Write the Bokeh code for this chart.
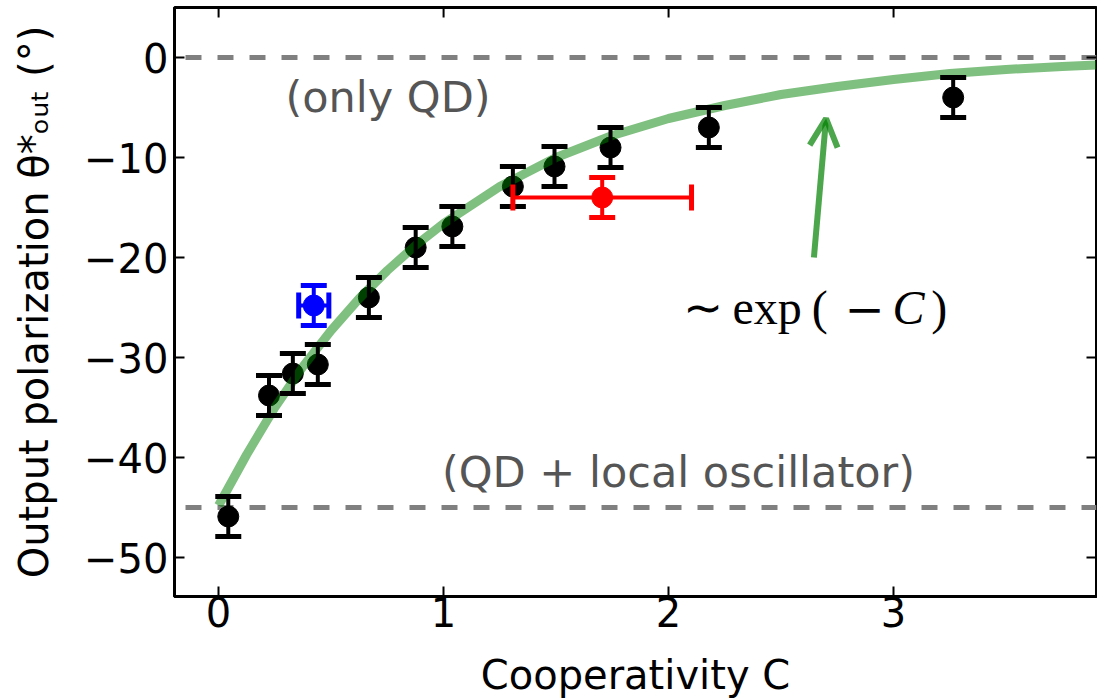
import math
from bokeh.plotting import figure
from bokeh.models import (Whisker, TeeHead, Span, Label, Arrow, OpenHead,
                          FixedTicker, ColumnDataSource, Range1d)
from bokeh.embed import file_html
from bokeh.resources import INLINE

# ---- data ----
coop = [0.043, 0.224, 0.33, 0.441, 0.668, 0.876, 1.039, 1.308, 1.493, 1.742, 2.179, 3.265]
theta = [-45.9, -33.8, -31.6, -30.7, -24.0, -19.0, -16.9, -12.9, -10.9, -9.0, -7.0, -4.0]
theta_err = [2, 2, 2, 2, 2, 2, 2, 2, 2, 2, 2, 2]

blue_c = [0.423]
blue_t = [-24.8]
blue_cerr = [0.067]
blue_terr = [2]

red_c = [1.705]
red_t = [-14.0]
red_cerr = [0.397]
red_terr = [2]

fit_c = [0.0, 0.125, 0.25, 0.375, 0.5, 0.625, 0.75, 0.875, 1.0, 1.25, 1.5, 1.75,
         2.0, 2.25, 2.5, 2.75, 3.0, 3.25, 3.5, 3.75, 3.9]
fit_t = [-44.8, -39.7, -35.0, -30.9, -27.3, -24.1, -21.3, -18.8, -16.6, -12.9, -10.0, -7.8,
         -6.1, -4.8, -3.7, -2.9, -2.2, -1.6, -1.2, -0.9, -0.75]

ref_levels = [0, -45]
x_ticks = [0, 1, 2, 3]
y_ticks = [-50, -40, -30, -20, -10, 0]

TICK_FONT = "40px"
LABEL_FONT = "40px"
NOTE_FONT = "43px"
FONT = "DejaVu Sans"

XMIN, XMAX = -0.196, 3.902
YMIN, YMAX = -53.9, 5.0

p = figure(width=1097, height=700, x_range=Range1d(XMIN, XMAX), y_range=Range1d(YMIN, YMAX),
           output_backend="svg", toolbar_location=None,
           min_border_left=174, min_border_right=1, min_border_top=7, min_border_bottom=104)
p.grid.visible = False
p.outline_line_color = "black"
p.outline_line_width = 3
p.background_fill_color = "white"
p.border_fill_color = "white"

def style_axis(ax, ticks):
    ax.ticker = FixedTicker(ticks=ticks)
    ax.major_tick_in = 10
    ax.major_tick_out = 0
    ax.minor_tick_in = 0
    ax.minor_tick_out = 0
    ax.major_tick_line_width = 2
    ax.major_tick_line_color = "black"
    ax.axis_line_width = 3
    ax.axis_line_color = "black"
    ax.major_label_text_font = FONT
    ax.major_label_text_font_size = TICK_FONT
    ax.major_label_text_color = "black"
    ax.axis_label_text_font = FONT
    ax.axis_label_text_font_size = LABEL_FONT
    ax.axis_label_text_font_style = "normal"
    ax.axis_label_text_color = "black"
    ax.major_label_overrides = {t: (("\u2212" + str(-t)) if t < 0 else str(t)) for t in ticks}

style_axis(p.xaxis[0], x_ticks)
style_axis(p.yaxis[0], y_ticks)
p.xaxis[0].axis_label = "Cooperativity C"
p.yaxis[0].axis_label = "Output polarization \u03b8*\u2092\u1d64\u209c (\u00b0)"
p.xaxis[0].major_label_standoff = 0
p.xaxis[0].axis_label_standoff = 22
p.yaxis[0].major_label_standoff = 6
p.yaxis[0].axis_label_standoff = 24

# inward tick marks on the top and right frame edges (10 px rays)
p.ray(x=x_ticks, y=[YMAX] * len(x_ticks), length=10, length_units="screen",
      angle=-math.pi / 2, line_color="black", line_width=2)
p.ray(x=[XMAX] * len(y_ticks), y=y_ticks, length=10, length_units="screen",
      angle=math.pi, line_color="black", line_width=2)

# reference dashed lines
for lvl in ref_levels:
    p.add_layout(Span(location=lvl, dimension="width", line_color="#808080", line_width=5,
                      line_dash="16 16", line_dash_offset=21, level="underlay"))

# black data with error bars
src = ColumnDataSource(dict(x=coop, y=theta,
                            lo=[t - e for t, e in zip(theta, theta_err)],
                            hi=[t + e for t, e in zip(theta, theta_err)]))

def whisk(source, base, lo, hi, dim, color):
    return Whisker(source=source, base=base, lower=lo, upper=hi, dimension=dim,
                   line_color=color, line_width=4, level="glyph",
                   upper_head=TeeHead(size=26, line_width=5, line_color=color),
                   lower_head=TeeHead(size=26, line_width=5, line_color=color))

p.add_layout(whisk(src, "x", "lo", "hi", "height", "black"))
p.scatter("x", "y", source=src, size=21, color="black")

# fit curve
p.line(fit_c, fit_t, line_color="#008000", line_alpha=0.5, line_width=9)

# blue point
bsrc = ColumnDataSource(dict(x=blue_c, y=blue_t,
                             ylo=[blue_t[0] - blue_terr[0]], yhi=[blue_t[0] + blue_terr[0]],
                             xlo=[blue_c[0] - blue_cerr[0]], xhi=[blue_c[0] + blue_cerr[0]]))
p.add_layout(whisk(bsrc, "x", "ylo", "yhi", "height", "#0000ff"))
p.add_layout(whisk(bsrc, "y", "xlo", "xhi", "width", "#0000ff"))
p.scatter("x", "y", source=bsrc, size=21, color="#0000ff")

# red point
rsrc = ColumnDataSource(dict(x=red_c, y=red_t,
                             ylo=[red_t[0] - red_terr[0]], yhi=[red_t[0] + red_terr[0]],
                             xlo=[red_c[0] - red_cerr[0]], xhi=[red_c[0] + red_cerr[0]]))
p.add_layout(whisk(rsrc, "x", "ylo", "yhi", "height", "#ff0000"))
p.add_layout(whisk(rsrc, "y", "xlo", "xhi", "width", "#ff0000"))
p.scatter("x", "y", source=rsrc, size=21, color="#ff0000")

# annotations
p.add_layout(Label(x=0.753, y=-3.9, text="(only QD)", text_font=FONT, text_font_size=NOTE_FONT,
                   text_color="#555555", text_align="center", text_baseline="middle"))
p.add_layout(Label(x=2.044, y=-41.4, text="(QD + local oscillator)", text_font=FONT,
                   text_font_size=NOTE_FONT, text_color="#555555", text_align="center",
                   text_baseline="middle"))

p.add_layout(Arrow(x_start=2.646, y_start=-20.0, x_end=2.70, y_end=-6.1,
                   line_color="#008000", line_alpha=0.7, line_width=6,
                   end=OpenHead(size=28, line_width=6, line_color="#008000", line_alpha=0.7)))

SERIF = "Liberation Serif"
EXPR_SIZE = "48px"
expr_y = -25.0
expr_parts = [  # (x, text, align, style, font)
    (2.062, "\u223c", "left", "normal", SERIF),
    (2.284, "exp", "left", "normal", SERIF),
    (2.636, "(", "left", "normal", SERIF),
    (2.871, "\u2212", "center", "normal", "DejaVu Serif"),
    (2.995, "C", "left", "italic", SERIF),
    (3.168, ")", "left", "normal", SERIF),
]
for ex, et, ea, es, ef in expr_parts:
    p.add_layout(Label(x=ex, y=expr_y, text=et, text_font=ef, text_font_size=EXPR_SIZE,
                       text_font_style=es, text_color="black", text_align=ea,
                       text_baseline="alphabetic"))

open("out.html", "w").write(file_html(p, INLINE))
